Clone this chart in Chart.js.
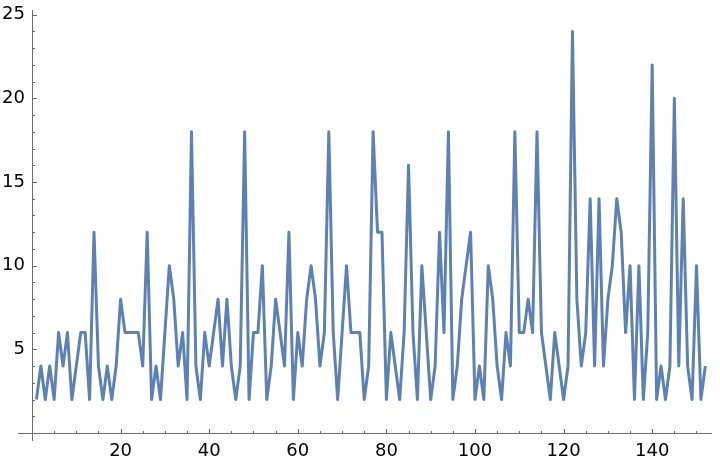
<!DOCTYPE html>
<html>
<head>
<meta charset="utf-8">
<script src="https://cdn.jsdelivr.net/npm/chart.js@4/dist/chart.umd.min.js"></script>
<style>
  html, body { margin: 0; padding: 0; background: #ffffff; }
  canvas { display: block; }
</style>
</head>
<body>
<canvas id="chart" width="720" height="464"></canvas>
<script>
// ---- data ----
const values = [
  2, 4, 2, 4, 2, 6, 4, 6, 2, 4,
  6, 6, 2, 12, 4, 2, 4, 2, 4, 8,
  6, 6, 6, 6, 4, 12, 2, 4, 2, 6,
  10, 8, 4, 6, 2, 18, 4, 2, 6, 4,
  6, 8, 4, 8, 4, 2, 4, 18, 2, 6,
  6, 10, 2, 4, 8, 6, 4, 12, 2, 6,
  4, 8, 10, 8, 4, 6, 18, 6, 2, 6,
  10, 6, 6, 6, 2, 4, 18, 12, 12, 2,
  6, 4, 2, 6, 16, 6, 2, 10, 6, 2,
  4, 12, 6, 18, 2, 4, 8, 10, 12, 2,
  4, 2, 10, 8, 4, 2, 6, 4, 18, 6,
  6, 8, 6, 18, 6, 4, 2, 6, 4, 2,
  4, 24, 8, 4, 6, 14, 4, 14, 4, 8,
  10, 14, 12, 6, 10, 2, 10, 2, 6, 22,
  2, 4, 2, 4, 20, 4, 14, 4, 2, 10,
  2, 4
];
const positions = values.map((_, i) => i + 1);   // n = 1 .. 152
const xTickLabels = [20, 40, 60, 80, 100, 120, 140];
const yTickLabels = [5, 10, 15, 20, 25];

// ---- Mathematica-style axes crossing at the origin, ticks pointing inward ----
const axesPlugin = {
  id: 'originAxes',
  beforeDatasetsDraw(chart) {
    const { ctx, chartArea: a, scales: { x, y } } = chart;
    const px0 = Math.round(x.getPixelForValue(0)) + 0.5;
    const py0 = Math.round(y.getPixelForValue(0)) + 0.5;
    ctx.save();
    ctx.strokeStyle = '#6b6b6b';
    ctx.lineWidth = 1;
    ctx.beginPath();
    ctx.moveTo(a.left - 14, py0); ctx.lineTo(a.right, py0);
    ctx.moveTo(px0, a.top); ctx.lineTo(px0, a.bottom + 8);
    for (let v = 5; v <= x.max; v += 5) {
      const p = Math.round(x.getPixelForValue(v)) + 0.5;
      const len = xTickLabels.includes(v) ? 4.5 : 2.5;
      ctx.moveTo(p, py0); ctx.lineTo(p, py0 - len);
    }
    for (let v = 1; v <= y.max; v += 1) {
      const p = Math.round(y.getPixelForValue(v)) + 0.5;
      const len = yTickLabels.includes(v) ? 4.5 : 2.5;
      ctx.moveTo(px0, p); ctx.lineTo(px0 + len, p);
    }
    ctx.stroke();
    ctx.restore();
  }
};

const tickFont = { family: 'DejaVu Sans', size: 18 };

new Chart(document.getElementById('chart'), {
  type: 'line',
  data: {
    datasets: [{
      data: positions.map((n, i) => ({ x: n, y: values[i] })),
      borderColor: '#5E81B5',
      borderWidth: 3,
      borderJoinStyle: 'round',
      pointRadius: 0,
      tension: 0,
      fill: false
    }]
  },
  options: {
    responsive: false,
    animation: false,
    layout: { padding: { top: 0, right: 8, left: 0, bottom: 0 } },
    plugins: { legend: { display: false }, tooltip: { enabled: false } },
    scales: {
      x: {
        type: 'linear',
        min: 0,
        max: 153.5,
        grid: { display: false, drawTicks: false },
        border: { display: false },
        afterBuildTicks: s => { s.ticks = xTickLabels.map(v => ({ value: v })); },
        afterFit: s => { s.height = 31; },
        ticks: { font: tickFont, color: '#000', padding: 8, maxRotation: 0, autoSkip: false }
      },
      y: {
        type: 'linear',
        min: 0,
        max: 25.28,
        grid: { display: false, drawTicks: false },
        border: { display: false },
        afterBuildTicks: s => { s.ticks = yTickLabels.map(v => ({ value: v })); },
        afterFit: s => { s.width = 32; s.paddingTop = 10; },
        ticks: { font: tickFont, color: '#000', padding: 7, autoSkip: false }
      }
    }
  },
  plugins: [axesPlugin]
});
</script>
</body>
</html>
